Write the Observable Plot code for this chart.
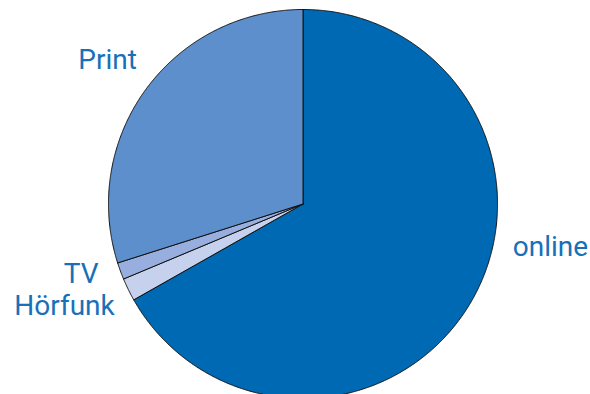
<!DOCTYPE html>
<html><head><meta charset="utf-8">
<script src="https://cdn.jsdelivr.net/npm/d3@7"></script>
<script src="https://cdn.jsdelivr.net/npm/@observablehq/plot@0.6"></script>
<style>body{margin:0;background:#fff}</style>
</head><body><div id="chart"></div>
<script>
// Data (clockwise from 12 o'clock)
const categories = ["online", "Hörfunk", "TV", "Print"];
const values = [66.8, 1.9, 1.4, 29.9];
const colors = ["#0069b4", "#c6d1ee", "#98aedf", "#5d8fcc"];

// Layout of labels (in unit-circle coordinates)
const labelLayout = [
  {name: "Print", x: -1.005, y: 0.738},
  {name: "TV", x: -1.141, y: -0.362},
  {name: "Hörfunk", x: -1.226, y: -0.527},
  {name: "online", x: 1.272, y: -0.219}
];

const arcs = d3.pie().sort(null).value(d => d.value)(
  categories.map((name, i) => ({name, value: values[i]}))
);
const pts = [];
for (const a of arcs) {
  const n = Math.max(2, Math.ceil((a.endAngle - a.startAngle) / 0.005));
  pts.push({name: a.data.name, x: 0, y: 0});
  for (let k = 0; k <= n; k++) {
    const t = a.startAngle + (a.endAngle - a.startAngle) * k / n;
    pts.push({name: a.data.name, x: Math.sin(t), y: Math.cos(t)});
  }
  pts.push({name: a.data.name, x: 0, y: 0});
}

const chart = Plot.plot({
  width: 590,
  height: 394,
  margin: 0,
  style: {fontFamily: "Roboto, sans-serif", background: "#fff"},
  x: {type: "linear", domain: [-1, 1], range: [108, 497], axis: null},
  y: {type: "linear", domain: [-1, 1], range: [398, 9], axis: null},
  color: {domain: categories, range: colors},
  marks: [
    Plot.line(pts, {x: "x", y: "y", z: "name", fill: "name", stroke: "#111", strokeWidth: 1, strokeLinejoin: "round", curve: "linear"}),
    Plot.text(labelLayout, {x: "x", y: "y", text: "name", fill: "#1870b8", fontSize: 28, textAnchor: "middle"})
  ]
});
document.getElementById("chart").appendChild(chart);
</script>
</body></html>
